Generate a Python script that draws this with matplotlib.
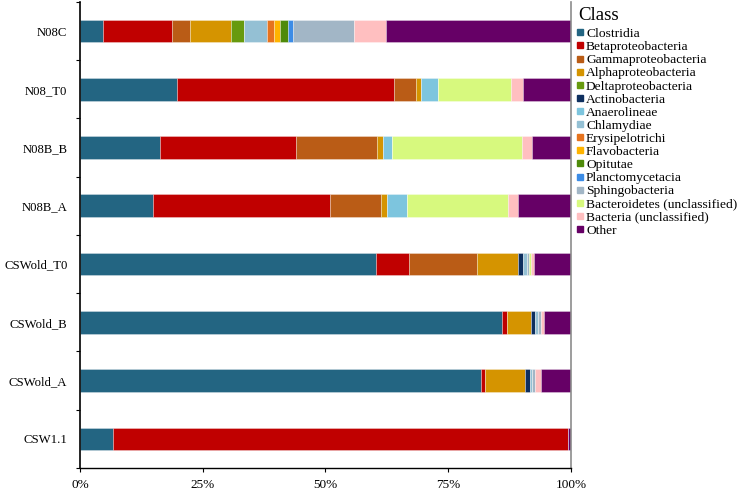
import numpy as np
import matplotlib
matplotlib.use("Agg")
import matplotlib.pyplot as plt
from matplotlib.lines import Line2D

plt.rcParams['font.family'] = ['Liberation Serif', 'DejaVu Serif']

samples = ["N08C", "N08_T0", "N08B_B", "N08B_A", "CSWold_T0", "CSWold_B", "CSWold_A", "CSW1.1"]

classes = ["Clostridia", "Betaproteobacteria", "Gammaproteobacteria", "Alphaproteobacteria",
           "Deltaproteobacteria", "Actinobacteria", "Anaerolineae", "Chlamydiae",
           "Erysipelotrichi", "Flavobacteria", "Opitutae", "Planctomycetacia",
           "Sphingobacteria", "Bacteroidetes (unclassified)", "Bacteria (unclassified)", "Other"]

colors = ["#236582", "#C00000", "#BA5C16", "#D59400", "#679A0E", "#0E2F5F", "#7DC5DE", "#94C0D4",
          "#E6731E", "#FFB400", "#4E8A0A", "#3C8CE6", "#A2B6C6", "#D7F97E", "#FFBFC0", "#660066"]

# percent per sample, same order as samples
clostridia = [4.6, 19.7, 16.3, 14.8, 60.3, 85.9, 81.6, 6.8]
beta = [14.2, 44.2, 27.6, 36.2, 6.8, 1.0, 0.9, 92.5]
gamma = [3.6, 4.6, 16.6, 10.4, 13.7, 0, 0, 0]
alpha = [8.4, 0.9, 1.2, 1.2, 8.3, 4.9, 8.1, 0]
delta = [2.7, 0, 0, 0, 0, 0, 0, 0]
actino = [0, 0, 0, 0, 1.2, 0.9, 1.0, 0]
anaerolineae = [0, 3.6, 1.8, 3.9, 0, 0, 0, 0]
chlamydiae = [4.5, 0, 0, 0, 0.7, 0.5, 0.5, 0]
erysipelotrichi = [1.5, 0, 0, 0, 0, 0, 0, 0]
flavobacteria = [1.2, 0, 0, 0, 0, 0, 0, 0]
opitutae = [1.6, 0, 0, 0, 0, 0, 0, 0]
planctomycetacia = [1.1, 0, 0, 0, 0, 0, 0, 0]
sphingobacteria = [12.4, 0, 0, 0, 0.5, 0.7, 0.5, 0]
bacteroidetes_uncl = [0, 14.8, 26.6, 20.6, 0.4, 0, 0, 0]
bacteria_uncl = [6.6, 2.5, 1.9, 2.2, 0.6, 0.5, 1.3, 0]
other = [37.6, 9.7, 8.0, 10.7, 7.5, 5.6, 6.1, 0.7]

data = [clostridia, beta, gamma, alpha, delta, actino, anaerolineae, chlamydiae,
        erysipelotrichi, flavobacteria, opitutae, planctomycetacia, sphingobacteria,
        bacteroidetes_uncl, bacteria_uncl, other]

fig = plt.figure(figsize=(7.37, 4.92), dpi=100)
ax = fig.add_axes([0.1085, 0.0488, 0.6663, 0.9472])

y = np.arange(len(samples))
left = np.zeros(len(samples))
for vals, col, name in zip(data, colors, classes):
    vals = np.array(vals, dtype=float)
    ax.barh(y, vals, left=left, height=0.39, color=col, edgecolor=(1, 1, 1, 0.35),
            linewidth=0.6, label=name)
    left += vals

ax.set_xlim(0, 100)
ax.set_ylim(len(samples) - 0.5, -0.5)
ax.set_yticks(y)
ax.set_yticklabels(samples, fontsize=9.2)
ax.set_yticks(np.arange(-0.5, len(samples)), minor=True)
ax.tick_params(axis='y', which='major', length=0, pad=9)
ax.tick_params(axis='y', which='minor', length=3, width=0.8)
ax.set_xticks([0, 25, 50, 75, 100])
ax.set_xticklabels(["0%", "25%", "50%", "75%", "100%"], fontsize=9.5)
ax.tick_params(axis='x', length=3, width=0.8, pad=5)

ax.spines['top'].set_visible(False)
ax.spines['right'].set_color('#8c8c8c')
ax.spines['right'].set_linewidth(1.2)
ax.spines['left'].set_linewidth(1.2)
ax.spines['bottom'].set_linewidth(1.0)

# legend title drawn separately so the gap below it can be set
fig.text(0.784, 0.986, "Class", fontsize=13.5, ha='left', va='top')
handles = [Line2D([0], [0], marker='s', linestyle='', markersize=5, color=c) for c in colors]
leg = fig.legend(handles, classes, loc='upper left', bbox_to_anchor=(0.777, 0.952),
                 frameon=False, fontsize=9.7,
                 handlelength=0.5, handletextpad=0.2, labelspacing=0.05,
                 borderpad=0.15, borderaxespad=0.15)

fig.savefig("out.png", dpi=100)
